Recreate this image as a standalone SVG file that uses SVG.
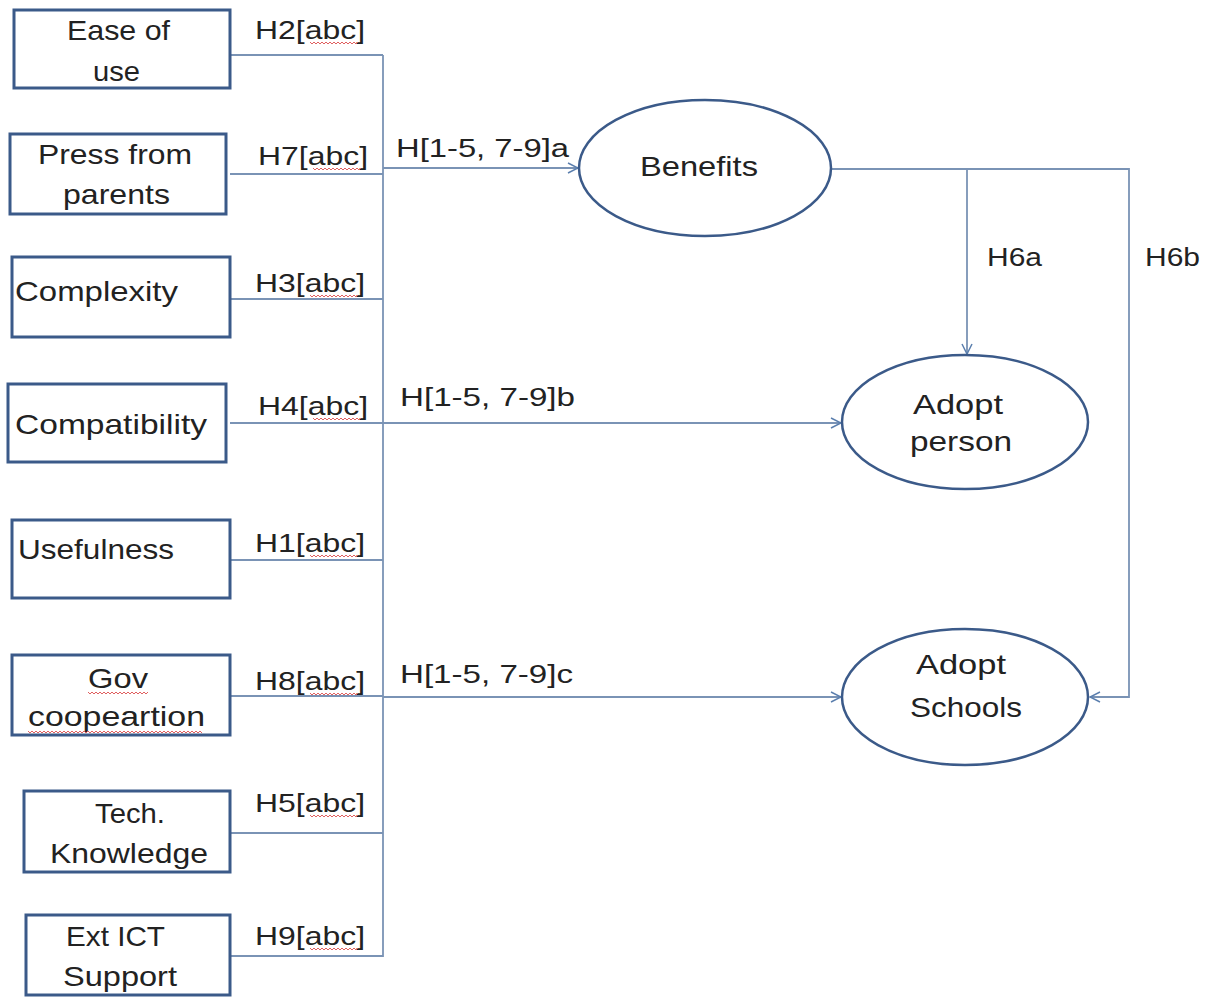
<svg xmlns="http://www.w3.org/2000/svg" width="1220" height="997" viewBox="0 0 1220 997">
<defs>
<marker id="arr" viewBox="0 0 12 12" refX="11" refY="6" markerWidth="12" markerHeight="12" markerUnits="userSpaceOnUse" orient="auto">
<path d="M1,1 L11,6 L1,11" fill="none" stroke="#5b7fae" stroke-width="1.5"/>
</marker>
<path id="sq" d="M0,0 l2,2 l2,-2 l2,2 l2,-2 l2,2 l2,-2 l2,2 l2,-2 l2,2 l2,-2 l2,2 l2,-2 l2,2 l2,-2 l2,2 l2,-2 l2,2 l2,-2 l2,2 l2,-2 l2,2 l2,-2 l2,2 l2,-2" fill="none" stroke="#e06060" stroke-width="1"/>
</defs>
<style>
.box{fill:#ffffff;stroke:#3b5a89;stroke-width:3}
.ell{fill:#ffffff;stroke:#3b5a89;stroke-width:2.5}
.t{font-family:"Liberation Sans",Arial,sans-serif;font-size:28px;fill:#222222}
.lbl{font-family:"Liberation Sans",Arial,sans-serif;font-size:26px;fill:#222222}
.ln{fill:none;stroke:#7a93b5;stroke-width:1.8}
</style>
<rect width="1220" height="997" fill="#ffffff"/>
<g id="connectors">
<path class="ln" d="M383,55 V957"/>
<path class="ln" d="M230,55 H383"/>
<path class="ln" d="M230,174 H383"/>
<path class="ln" d="M230,299 H383"/>
<path class="ln" d="M230,423 H383"/>
<path class="ln" d="M230,560 H383"/>
<path class="ln" d="M230,696 H383"/>
<path class="ln" d="M230,833 H383"/>
<path class="ln" d="M230,956 H383"/>
<path class="ln" d="M383,168 H578" marker-end="url(#arr)"/>
<path class="ln" d="M383,423 H841" marker-end="url(#arr)"/>
<path class="ln" d="M383,697 H841" marker-end="url(#arr)"/>
<path class="ln" d="M832,169 H1129 V697 H1090" marker-end="url(#arr)"/>
<path class="ln" d="M967,169 V354" marker-end="url(#arr)"/>
<text class="lbl" x="255" y="39" textLength="110" lengthAdjust="spacingAndGlyphs">H2[abc]</text>
<text class="lbl" x="258" y="165" textLength="110" lengthAdjust="spacingAndGlyphs">H7[abc]</text>
<text class="lbl" x="255" y="292" textLength="110" lengthAdjust="spacingAndGlyphs">H3[abc]</text>
<text class="lbl" x="258" y="415" textLength="110" lengthAdjust="spacingAndGlyphs">H4[abc]</text>
<text class="lbl" x="255" y="552" textLength="110" lengthAdjust="spacingAndGlyphs">H1[abc]</text>
<text class="lbl" x="255" y="690" textLength="110" lengthAdjust="spacingAndGlyphs">H8[abc]</text>
<text class="lbl" x="255" y="812" textLength="110" lengthAdjust="spacingAndGlyphs">H5[abc]</text>
<text class="lbl" x="255" y="945" textLength="110" lengthAdjust="spacingAndGlyphs">H9[abc]</text>
<use href="#sq" x="310" y="42"/>
<use href="#sq" x="313" y="168"/>
<use href="#sq" x="310" y="295"/>
<use href="#sq" x="313" y="418"/>
<use href="#sq" x="310" y="555"/>
<use href="#sq" x="310" y="693"/>
<use href="#sq" x="310" y="815"/>
<use href="#sq" x="310" y="948"/>
<text class="lbl" x="396" y="157" textLength="173" lengthAdjust="spacingAndGlyphs">H[1-5, 7-9]a</text>
<text class="lbl" x="400" y="406" textLength="175" lengthAdjust="spacingAndGlyphs">H[1-5, 7-9]b</text>
<text class="lbl" x="400" y="683" textLength="173" lengthAdjust="spacingAndGlyphs">H[1-5, 7-9]c</text>
<text class="lbl" x="987" y="266" textLength="55" lengthAdjust="spacingAndGlyphs">H6a</text>
<text class="lbl" x="1145" y="266" textLength="55" lengthAdjust="spacingAndGlyphs">H6b</text>
</g>
<g id="ease">
<rect class="box" x="14" y="10" width="216" height="78"/>
<text class="t" x="67" y="40" textLength="103" lengthAdjust="spacingAndGlyphs">Ease of</text>
<text class="t" x="93" y="81" textLength="47" lengthAdjust="spacingAndGlyphs">use</text>
</g>
<g id="press">
<rect class="box" x="10" y="134" width="216" height="80"/>
<text class="t" x="38" y="164" textLength="154" lengthAdjust="spacingAndGlyphs">Press from</text>
<text class="t" x="63" y="204" textLength="107" lengthAdjust="spacingAndGlyphs">parents</text>
</g>
<g id="complexity">
<rect class="box" x="12" y="257" width="218" height="80"/>
<text class="t" x="15" y="301" textLength="163" lengthAdjust="spacingAndGlyphs">Complexity</text>
</g>
<g id="compatibility">
<rect class="box" x="8" y="384" width="218" height="78"/>
<text class="t" x="15" y="434" textLength="192" lengthAdjust="spacingAndGlyphs">Compatibility</text>
</g>
<g id="usefulness">
<rect class="box" x="12" y="520" width="218" height="78"/>
<text class="t" x="18" y="559" textLength="156" lengthAdjust="spacingAndGlyphs">Usefulness</text>
</g>
<g id="gov">
<rect class="box" x="12" y="655" width="218" height="80"/>
<text class="t" x="88" y="688" textLength="60" lengthAdjust="spacingAndGlyphs">Gov</text>
<text class="t" x="28" y="726" textLength="177" lengthAdjust="spacingAndGlyphs">coopeartion</text>
<path d="M88,692 l2,2 l2,-2 l2,2 l2,-2 l2,2 l2,-2 l2,2 l2,-2 l2,2 l2,-2 l2,2 l2,-2 l2,2 l2,-2 l2,2 l2,-2 l2,2 l2,-2 l2,2 l2,-2 l2,2 l2,-2 l2,2 l2,-2 l2,2 l2,-2 l2,2 l2,-2 l2,2 l2,-2" fill="none" stroke="#e06060" stroke-width="1"/>
<path d="M28,731 l2,2 l2,-2 l2,2 l2,-2 l2,2 l2,-2 l2,2 l2,-2 l2,2 l2,-2 l2,2 l2,-2 l2,2 l2,-2 l2,2 l2,-2 l2,2 l2,-2 l2,2 l2,-2 l2,2 l2,-2 l2,2 l2,-2 l2,2 l2,-2 l2,2 l2,-2 l2,2 l2,-2 l2,2 l2,-2 l2,2 l2,-2 l2,2 l2,-2 l2,2 l2,-2 l2,2 l2,-2 l2,2 l2,-2 l2,2 l2,-2 l2,2 l2,-2 l2,2 l2,-2 l2,2 l2,-2 l2,2 l2,-2 l2,2 l2,-2 l2,2 l2,-2 l2,2 l2,-2 l2,2 l2,-2 l2,2 l2,-2 l2,2 l2,-2 l2,2 l2,-2 l2,2 l2,-2 l2,2 l2,-2 l2,2 l2,-2 l2,2 l2,-2 l2,2 l2,-2 l2,2 l2,-2 l2,2 l2,-2 l2,2 l2,-2 l2,2 l2,-2 l2,2 l2,-2 l2,2" fill="none" stroke="#e06060" stroke-width="1"/>
</g>
<g id="tech">
<rect class="box" x="24" y="791" width="206" height="81"/>
<text class="t" x="95" y="823" textLength="70" lengthAdjust="spacingAndGlyphs">Tech.</text>
<text class="t" x="50" y="863" textLength="158" lengthAdjust="spacingAndGlyphs">Knowledge</text>
</g>
<g id="ext">
<rect class="box" x="26" y="915" width="204" height="80"/>
<text class="t" x="66" y="946" textLength="99" lengthAdjust="spacingAndGlyphs">Ext ICT</text>
<text class="t" x="63" y="986" textLength="114" lengthAdjust="spacingAndGlyphs">Support</text>
</g>
<g id="benefits">
<ellipse class="ell" cx="705" cy="168" rx="126" ry="68"/>
<text class="t" x="640" y="176" textLength="118" lengthAdjust="spacingAndGlyphs">Benefits</text>
</g>
<g id="adopt-person">
<ellipse class="ell" cx="965" cy="422" rx="123" ry="67"/>
<text class="t" x="913" y="414" textLength="90" lengthAdjust="spacingAndGlyphs">Adopt</text>
<text class="t" x="910" y="451" textLength="102" lengthAdjust="spacingAndGlyphs">person</text>
</g>
<g id="adopt-schools">
<ellipse class="ell" cx="965" cy="697" rx="123" ry="68"/>
<text class="t" x="916" y="674" textLength="90" lengthAdjust="spacingAndGlyphs">Adopt</text>
<text class="t" x="910" y="717" textLength="112" lengthAdjust="spacingAndGlyphs">Schools</text>
</g>
</svg>
